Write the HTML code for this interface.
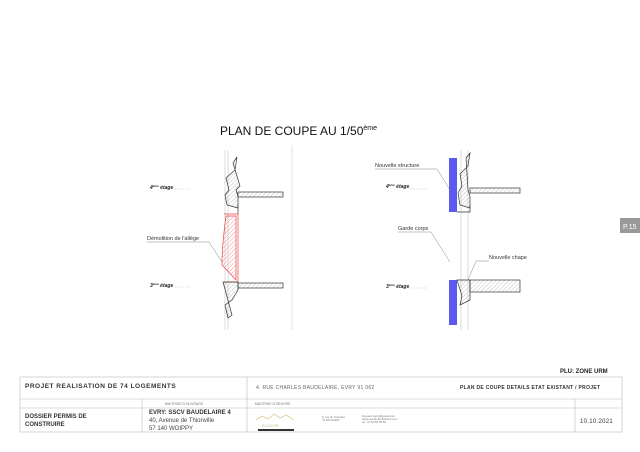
<!DOCTYPE html>
<html><head><meta charset="utf-8"><style>
body{margin:0;background:#fff;}
svg{display:block;font-family:"Liberation Sans",sans-serif;}
</style></head><body>
<svg width="640" height="452" viewBox="0 0 640 452" xmlns="http://www.w3.org/2000/svg">
<defs>
<pattern id="h" width="3" height="3" patternUnits="userSpaceOnUse" patternTransform="rotate(45)"><line x1="0" y1="0" x2="0" y2="3" stroke="#999" stroke-width="0.6"/></pattern>
<pattern id="hr" width="3" height="3" patternUnits="userSpaceOnUse" patternTransform="rotate(45)"><line x1="0" y1="0" x2="0" y2="3" stroke="#e55" stroke-width="0.6"/></pattern>
</defs>
<rect width="640" height="452" fill="#fff"/>
<text x="220" y="135" font-size="12" fill="#111">PLAN DE COUPE AU 1/50<tspan font-size="7" dy="-5">ème</tspan></text>
<line x1="292" y1="145" x2="292" y2="330" stroke="#ccc" stroke-width="0.6"/>

<!-- LEFT -->
<g stroke="#333" stroke-width="0.7">
<line x1="225" y1="150" x2="225" y2="330" stroke="#ccc"/>
<line x1="228" y1="150" x2="228" y2="330" stroke="#ccc"/>
<path d="M233,163 L237,157 L235,170 L226,178 L229,190 L225,195 L227,205 L238,208 L238,196 L236,190 L240,186 Z" fill="url(#h)"/>
<rect x="238" y="192" width="45" height="5" fill="url(#h)"/>
<line x1="238" y1="205" x2="238" y2="214"/>
<path d="M224,214 L238,214 L238,282 L224,282" fill="none" stroke="#e44"/>
<path d="M226,216 Q222,245 222,265 L236,280 L236,216 Z" fill="url(#hr)" stroke="#e44"/>
<path d="M223,282 L238,282 L238,290 L232,300 L225,305 L228,318 L232,315 Z" fill="url(#h)"/>
<rect x="238" y="283" width="45" height="5" fill="url(#h)"/>
</g>
<g font-size="5" fill="#222" font-style="italic" font-weight="bold">
<text x="150" y="189">4<tspan font-size="3" dy="-2">ème</tspan><tspan dy="2"> étage</tspan></text>
<text x="150" y="287">3<tspan font-size="3" dy="-2">ème</tspan><tspan dy="2"> étage</tspan></text>
</g>
<line x1="175" y1="189" x2="190" y2="189" stroke="#bbb" stroke-width="0.5" stroke-dasharray="1,1"/>
<line x1="175" y1="287" x2="190" y2="287" stroke="#bbb" stroke-width="0.5" stroke-dasharray="1,1"/>
<text x="147" y="240" font-size="5.5" fill="#333">Démolition de l'allège</text>
<polyline points="147,242 209,242 222,262" fill="none" stroke="#666" stroke-width="0.4"/>

<!-- RIGHT -->
<g stroke="#333" stroke-width="0.7">
<line x1="461" y1="150" x2="461" y2="330" stroke="#ccc"/>
<line x1="468" y1="150" x2="468" y2="330" stroke="#ccc"/>
<path d="M466,158 L470,153 L468,166 L460,174 L462,186 L458,193 L460,205 L470,208 L470,196 L468,190 Z" fill="url(#h)"/>
<rect x="470" y="188" width="50" height="5" fill="url(#h)"/>
<path d="M457,212 L470,212 L470,206" fill="none"/>
<rect x="470" y="280" width="50" height="12" fill="url(#h)"/>
<path d="M457,280 L470,280 L470,300 L460,305 L462,296 Z" fill="url(#h)"/>
</g>
<rect x="449" y="158" width="8" height="54" fill="#5a5aee"/>
<rect x="449" y="280" width="8" height="45" fill="#5a5aee"/>
<g font-size="5" fill="#222" font-style="italic" font-weight="bold">
<text x="386" y="188">4<tspan font-size="3" dy="-2">ème</tspan><tspan dy="2"> étage</tspan></text>
<text x="386" y="288">3<tspan font-size="3" dy="-2">ème</tspan><tspan dy="2"> étage</tspan></text>
</g>
<line x1="410" y1="189" x2="428" y2="189" stroke="#bbb" stroke-width="0.5" stroke-dasharray="1,1"/>
<line x1="410" y1="288" x2="428" y2="288" stroke="#bbb" stroke-width="0.5" stroke-dasharray="1,1"/>
<g font-size="5.5" fill="#333">
<text x="375" y="167">Nouvelle structure</text>
<text x="398" y="230">Garde corps</text>
<text x="489" y="259">Nouvelle chape</text>
</g>
<g fill="none" stroke="#666" stroke-width="0.4">
<polyline points="375,169 437,169 450,190"/>
<polyline points="398,232 431,232 450,262"/>
<polyline points="489,261 476,261 468,280"/>
</g>

<rect x="620" y="218" width="20" height="15" fill="#999"/>
<text x="623" y="229" font-size="7" fill="#fff">P.15</text>

<text x="560" y="373" font-size="6" font-weight="bold" fill="#222">PLU: ZONE URM</text>
<g stroke="#bbb" stroke-width="0.6" fill="none">
<rect x="20" y="377" width="602" height="55"/>
<line x1="20" y1="399" x2="622" y2="399"/>
<line x1="20" y1="408" x2="622" y2="408"/>
<line x1="247" y1="377" x2="247" y2="432"/>
<line x1="142" y1="399" x2="142" y2="432"/>
<line x1="575" y1="399" x2="575" y2="432"/>
</g>
<text x="25" y="388" font-size="6.5" font-weight="bold" fill="#333" letter-spacing="0.5">PROJET REALISATION DE 74 LOGEMENTS</text>
<text x="256" y="389" font-size="5" fill="#666" letter-spacing="0.3">4, RUE CHARLES BAUDELAIRE, EVRY  91 062</text>
<text x="460" y="389" font-size="5" font-weight="bold" fill="#333" letter-spacing="0.3">PLAN DE COUPE DETAILS ETAT EXISTANT / PROJET</text>
<text x="165" y="405" font-size="3.5" fill="#777">MAITRISE D'OUVRAGE</text>
<text x="255" y="405" font-size="3.5" fill="#777">MAITRISE D'OEUVRE</text>
<text x="25" y="418" font-size="6" font-weight="bold" fill="#333">DOSSIER PERMIS DE</text>
<text x="25" y="426" font-size="6" font-weight="bold" fill="#333">CONSTRUIRE</text>
<text x="149" y="414" font-size="6" font-weight="bold" fill="#333">EVRY: SSCV BAUDELAIRE 4</text>
<text x="149" y="422" font-size="6" fill="#444">40, Avenue de Thionville</text>
<text x="149" y="430" font-size="6" fill="#444">57 140 WOIPPY</text>
<path d="M256,420 L262,416 L268,419 L274,414 L280,418 L286,415 L294,420" fill="none" stroke="#dcc9a0" stroke-width="0.8"/>
<text x="262" y="427" font-size="4" fill="#c9b48a">ELOCHE</text>
<rect x="258" y="429" width="36" height="2" fill="#333"/>
<text x="322" y="418" font-size="2.8" fill="#777">6, rue de l'Armada</text>
<text x="322" y="421" font-size="2.8" fill="#777">75 000 PARIS</text>
<text x="362" y="417" font-size="2.8" fill="#777">frequem.barry@gmail.com</text>
<text x="362" y="420" font-size="2.8" fill="#777">www.eloche-architectes.com</text>
<text x="362" y="423" font-size="2.8" fill="#777">tel : 07 60 82 55 52</text>
<text x="580" y="423" font-size="6" fill="#333" letter-spacing="0.3">10.10.2021</text>
</svg>
</body></html>
